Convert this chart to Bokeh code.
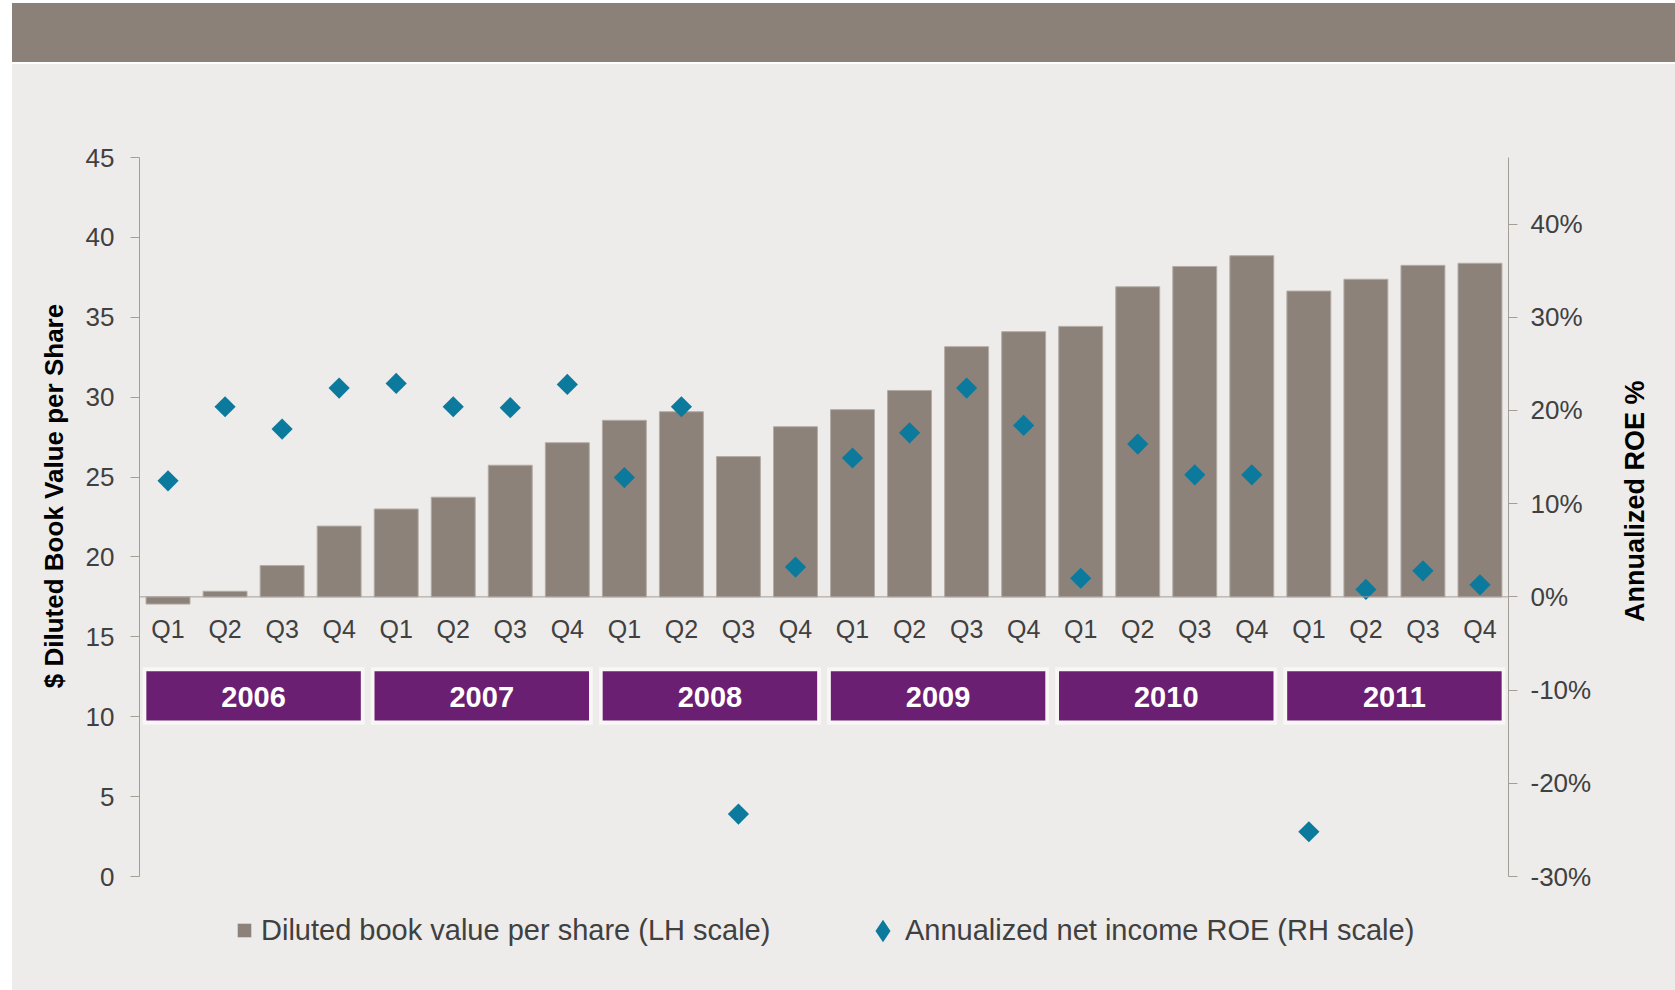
import math
from bokeh.plotting import figure
from bokeh.models import (Range1d, LinearAxis, FixedTicker, Span, Label, Legend,
                          LegendItem, Div)
from bokeh.layouts import column, row
from bokeh.core.properties import value
from bokeh.embed import file_html
from bokeh.resources import INLINE

# ---------------- data ----------------
years = ["2006", "2007", "2008", "2009", "2010", "2011"]
quarters = ["Q1", "Q2", "Q3", "Q4"]
book_value = [17.05, 17.85, 19.46, 21.93,
              23.00, 23.74, 25.74, 27.15,
              28.55, 29.09, 26.28, 28.15,
              29.22, 30.42, 33.16, 34.10,
              34.43, 36.91, 38.18, 38.85,
              36.64, 37.38, 38.25, 38.38]
roe_pct = [12.45, 20.4, 18.0, 22.4,
           22.9, 20.4, 20.3, 22.8,
           12.8, 20.4, -23.3, 3.2,
           14.9, 17.6, 22.4, 18.4,
           2.0, 16.4, 13.1, 13.1,
           -25.2, 0.8, 2.8, 1.3]
left_ticks = [0, 5, 10, 15, 20, 25, 30, 35, 40, 45]
right_ticks = [-30, -20, -10, 0, 10, 20, 30, 40]
series_names = ["Diluted book value per share (LH scale)",
                "Annualized net income ROE (RH scale)"]
left_title = "$ Diluted Book Value per Share"
right_title = "Annualized  ROE %"

# ---------------- style ----------------
FONT = "Liberation Sans"
BG = "#EDECEA"
BAND = "#8B8178"
BAR = "#8C8279"
BAR_EDGE = "#B3ABA4"
TEAL = "#0B7A9D"
PURPLE = "#6B1F73"
AXIS = "#A59E97"
TXT = "#404040"
CROSS = 17.5  # left-scale value where the category axis crosses

n = len(book_value)
idx = list(range(n))
q_labels = [quarters[i % 4] for i in idx]
year_centers = [4 * j + 1.5 for j in range(len(years))]
roe_top = -30 + 45 * 30 / CROSS

ROW_H = 832


def blank(width, height):
    f = figure(width=width, height=height, x_range=Range1d(0, 1), y_range=Range1d(0, 1),
               output_backend="svg", toolbar_location=None,
               x_axis_location=None, y_axis_location=None, min_border=0,
               background_fill_color=BG, border_fill_color=BG,
               outline_line_color=None)
    f.grid.visible = False
    return f


# ---------------- main chart ----------------
p = figure(width=1535, height=ROW_H,
           x_range=Range1d(-0.5, n - 0.5), y_range=Range1d(0, 45),
           output_backend="svg", toolbar_location=None, x_axis_location=None,
           min_border_left=69, min_border_right=97, min_border_top=93,
           min_border_bottom=20,
           background_fill_color=BG, border_fill_color=BG,
           outline_line_color=None)
p.grid.visible = False
p.extra_y_ranges = {"roe": Range1d(-30, roe_top)}

ya = p.yaxis[0]
ya.ticker = FixedTicker(ticks=left_ticks)
ya.axis_line_color = AXIS
ya.major_tick_line_color = AXIS
ya.major_tick_out = 9
ya.major_tick_in = 0
ya.minor_tick_line_color = None
ya.major_label_text_font = FONT
ya.major_label_text_font_size = "26px"
ya.major_label_text_color = TXT
ya.major_label_standoff = 16

ra = LinearAxis(y_range_name="roe", ticker=FixedTicker(ticks=right_ticks),
                major_label_overrides={t: f"{t}%" for t in right_ticks})
ra.axis_line_color = AXIS
ra.major_tick_line_color = AXIS
ra.major_tick_out = 9
ra.major_tick_in = 0
ra.minor_tick_line_color = None
ra.major_label_text_font = FONT
ra.major_label_text_font_size = "26px"
ra.major_label_text_color = TXT
ra.major_label_standoff = 13
p.add_layout(ra, "right")

p.add_layout(Span(location=CROSS, dimension="width", line_color=AXIS, line_width=1))

p.vbar(x=idx, top=book_value, bottom=CROSS, width=0.77,
       fill_color=BAR, line_color=BAR_EDGE, line_width=1)

p.scatter(x=idx, y=roe_pct, y_range_name="roe", marker="square",
          angle=math.pi / 4, size=15, fill_color=TEAL, line_color=None)

p.text(x=idx, y=[15.46] * n, text=q_labels, text_font=value(FONT),
       text_font_size="25px", text_color=TXT, text_align="center",
       text_baseline="middle")

p.rect(x=year_centers, y=[11.3] * len(years), width=3.89, height=3.6,
       fill_color="#F8F7F6", line_color=None)
p.rect(x=year_centers, y=[11.3] * len(years), width=3.76, height=3.08,
       fill_color=PURPLE, line_color=None)
p.text(x=year_centers, y=[11.25] * len(years), text=years, text_font=value(FONT),
       text_font_size="29px", text_font_style="bold", text_color="white",
       text_align="center", text_baseline="middle")

# ---------------- axis titles ----------------
lt = blank(58, ROW_H)
lt.add_layout(Label(x=41.5, y=380.5, x_units="screen", y_units="screen",
                    text=left_title, angle=math.pi / 2, text_align="center",
                    text_baseline="middle", text_font=FONT, text_font_size="26px",
                    text_font_style="bold", text_color="#000000"))

rt = blank(70, ROW_H)
rt.add_layout(Label(x=29, y=379, x_units="screen", y_units="screen",
                    text=right_title, angle=math.pi / 2, text_align="center",
                    text_baseline="middle", text_font=FONT, text_font_size="27px",
                    text_font_style="bold", text_color="#000000"))

# ---------------- legend ----------------
lg = blank(1663, 94)
nan = float("nan")
leg_bar = lg.scatter(x=[nan], y=[nan], marker="square", fill_color=BAR, line_color=None)
leg_roe = lg.scatter(x=[nan], y=[nan], marker="diamond", fill_color=TEAL,
                     line_color=TEAL, line_width=2.5, line_join="miter")
common = dict(orientation="horizontal", padding=0, margin=0, label_standoff=0,
              background_fill_alpha=0, border_line_color=None, label_text_font=FONT,
              label_text_font_size="29px", label_text_color=TXT)
legend_a = Legend(items=[LegendItem(label=series_names[0], renderers=[leg_bar])],
                  location=(215, 43), glyph_width=34, glyph_height=34, **common)
legend_b = Legend(items=[LegendItem(label=series_names[1], renderers=[leg_roe])],
                  location=(848, 37.5), glyph_width=45, glyph_height=45, **common)
lg.add_layout(legend_a)
lg.add_layout(legend_b)

band = Div(text="", width=1663, height=59, margin=(3, 0, 0, 12),
           styles={"background-color": BAND})

inner = column(row(lt, p, rt, spacing=0), lg, spacing=0, margin=(2, 0, 0, 12),
               styles={"background-color": BG})
layout = column(band, inner, spacing=0)

open("out.html", "w").write(file_html(layout, INLINE))
